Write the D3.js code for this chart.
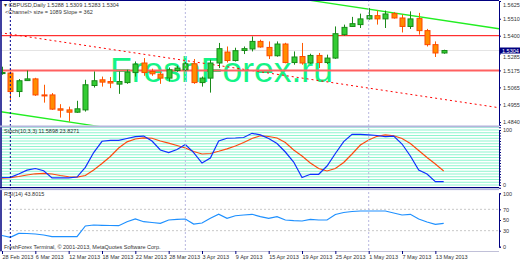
<!DOCTYPE html>
<html lang="en">
<head>
    <meta charset="UTF-8">
    <title>GBPUSD Daily</title>
    <script src="https://d3js.org/d3.v7.min.js"></script>
    <style>
        body { margin: 0; background: #fff; }
        text { font-family: "Liberation Sans", Arial, sans-serif; }
    </style>
</head>
<body>
    <div id="chart"></div>

    <script>
        // daily bars, 28 Feb 2013 .. 14 May 2013
        var open  = [1.5156,1.5158,1.5038,1.5109,1.5120,1.5016,1.5016,1.4926,1.4919,1.4904,1.4919,1.5077,1.5114,1.5103,1.5086,1.5096,1.5161,1.5223,1.5168,1.5151,1.5125,1.5174,1.5179,1.5218,1.5096,1.5125,1.5223,1.5294,1.5239,1.5304,1.5314,1.5363,1.5324,1.5270,1.5346,1.5226,1.5265,1.5223,1.5272,1.5226,1.5255,1.5407,1.5460,1.5472,1.5509,1.5530,1.5509,1.5543,1.5515,1.5460,1.5511,1.5433,1.5342,1.5288];
        var high  = [1.5199,1.5168,1.5119,1.5174,1.5127,1.5082,1.5028,1.4956,1.4940,1.4978,1.5114,1.5168,1.5135,1.5132,1.5168,1.5179,1.5233,1.5255,1.5186,1.5166,1.5194,1.5205,1.5233,1.5249,1.5135,1.5244,1.5353,1.5330,1.5322,1.5330,1.5395,1.5374,1.5363,1.5363,1.5354,1.5298,1.5353,1.5283,1.5288,1.5277,1.5460,1.5472,1.5522,1.5543,1.5580,1.5563,1.5563,1.5553,1.5537,1.5558,1.5548,1.5444,1.5363,1.5309];
        var low   = [1.5147,1.4984,1.5002,1.5108,1.5010,1.4966,1.4919,1.4869,1.4843,1.4900,1.4908,1.5064,1.5070,1.5060,1.5023,1.5088,1.5135,1.5140,1.5140,1.5088,1.5103,1.5166,1.5172,1.5088,1.5070,1.5031,1.5190,1.5226,1.5233,1.5281,1.5298,1.5322,1.5249,1.5264,1.5221,1.5212,1.5212,1.5218,1.5190,1.5216,1.5250,1.5400,1.5457,1.5450,1.5504,1.5472,1.5450,1.5511,1.5421,1.5444,1.5407,1.5330,1.5262,1.5283];
        var close = [1.5161,1.5038,1.5108,1.5120,1.5016,1.5010,1.4924,1.4917,1.4904,1.4926,1.5082,1.5108,1.5099,1.5093,1.5103,1.5164,1.5216,1.5161,1.5153,1.5125,1.5179,1.5190,1.5218,1.5096,1.5125,1.5223,1.5316,1.5239,1.5303,1.5316,1.5363,1.5327,1.5270,1.5346,1.5226,1.5262,1.5223,1.5272,1.5226,1.5255,1.5413,1.5454,1.5478,1.5509,1.5530,1.5509,1.5541,1.5515,1.5460,1.5509,1.5433,1.5342,1.5288,1.5304];

        var stochK = [13.6,14,20,27,30,26,13,13,13,14.5,32,59,79.5,81,81,84.5,88,89,80,63.6,59,64.5,73.6,59,40,49,80,85,85.5,86.4,94,91,84.5,75.5,60,41.8,13.6,19.5,19.5,34.5,57.3,79,92,92,91,90,88,89,74.5,52.7,27.3,20,6,6];
        var stochD = [12.4,13.5,15.5,18.2,20.4,21,20,17.3,15,14.2,17.3,27.3,39,51.8,67.3,78.5,83.6,85.8,85,80,76,71.8,67.3,61,56.4,57.3,61.3,65.8,71,77.3,84.5,89.5,88.2,85.5,77.3,63.6,52.7,40,30,25.5,30,41,56.4,72.7,81.8,88.5,91,89.5,84.5,75.5,62.7,50,38.2,25.5];
        var rsi = [21,17.6,25,24.7,23.8,21.9,19,18.7,18.7,18.7,38.8,40.6,40,39.7,39.3,46.8,51.9,46.8,45.3,43.8,50,51,51.9,42.5,44.4,53.2,60.7,53.2,58,59.4,60.7,56.2,53.2,56.2,50,48.7,48.1,51.3,50,50,60.3,64,65.9,66.9,66.9,66.9,66.9,63.1,59.4,60.7,51.9,46.3,41.9,43.8];

        var priceTicks = [1.5625, 1.5510, 1.5400, 1.5285, 1.5175, 1.5065, 1.4955, 1.4840];
        var hLevels = [1.5400, 1.5175];
        var channelMid = [[0, 1.5418], [53, 1.4987]];
        var channelHalf = 0.0512;
        var separators = [22, 44];
        var markerBar = 1;
        var dateTickBars = [0, 4, 8, 12, 16, 20, 24, 28, 32, 36, 40, 44, 48, 52];
        var dateTickLabels = ["28 Feb 2013", "6 Mar 2013", "12 Mar 2013", "18 Mar 2013", "22 Mar 2013", "28 Mar 2013", "3 Apr 2013", "9 Apr 2013", "15 Apr 2013", "19 Apr 2013", "25 Apr 2013", "1 May 2013", "7 May 2013", "13 May 2013"];
        var stochLevels = d3.range(-5, 106, 5);
        var stochTicks = [0, 100];
        var rsiTicks = [0, 30, 50, 70, 100];

        var width = 520, height = 260;
        var right = 499;

        var x = d3.scaleLinear().domain([0, 53]).range([2, 443.7]);
        var y = d3.scaleLinear().domain([1.4821, 1.5625]).range([125, 1]);
        var yS = d3.scaleLinear().domain([0, 100]).range([185, 130]);
        var yR = d3.scaleLinear().domain([0, 100]).range([246.7, 193.3]);

        var svg = d3.select('#chart').append('svg')
            .attr('width', width)
            .attr('height', height)
            .style('background', '#fff');

        svg.append('clipPath').attr('id', 'main')
            .append('rect').attr('x', 1.5).attr('y', 1).attr('width', right - 1.5).attr('height', 124.5);
        svg.append('clipPath').attr('id', 'sub')
            .append('rect').attr('x', 1.5).attr('y', 127).attr('width', right - 1.5).attr('height', 124);

        // watermark
        svg.append('text')
            .attr('x', 110).attr('y', 82)
            .style('font-size', '35.5px')
            .attr('fill', '#14f486')
            .text('FreshForex.ru');

        var main = svg.append('g').attr('clip-path', 'url(#main)');

        // bid line
        main.append('line')
            .attr('x1', 0).attr('x2', right)
            .attr('y1', y(close[close.length - 1])).attr('y2', y(close[close.length - 1]))
            .attr('stroke', '#e4e4e4');

        // regression channel
        var xr = x.invert(right);
        var slope = (channelMid[1][1] - channelMid[0][1]) / (channelMid[1][0] - channelMid[0][0]);
        var midAt = k => channelMid[0][1] + slope * (k - channelMid[0][0]);
        var xl = x.invert(0);
        main.append('line')
            .attr('x1', 0).attr('y1', y(midAt(xl)))
            .attr('x2', right).attr('y2', y(midAt(xr)))
            .attr('stroke', '#ff0000').attr('stroke-dasharray', '2,3');
        [channelHalf, -channelHalf].forEach(function (off) {
            main.append('line')
                .attr('x1', 0).attr('y1', y(midAt(xl) + off))
                .attr('x2', right).attr('y2', y(midAt(xr) + off))
                .attr('stroke', '#22ee22').attr('stroke-width', 1.3);
        });

        // horizontal levels
        main.append('line')
            .attr('x1', 0).attr('x2', right)
            .attr('y1', y(hLevels[0])).attr('y2', y(hLevels[0]))
            .attr('stroke', '#ff0000');
        main.append('line')
            .attr('x1', 0).attr('x2', right)
            .attr('y1', y(hLevels[1])).attr('y2', y(hLevels[1]))
            .attr('stroke', '#ff6060').attr('stroke-width', 2);

        // candles
        var bars = d3.range(open.length);
        main.selectAll('line.wick')
            .data(bars)
            .enter().append('line')
                .attr('class', 'wick')
                .attr('x1', k => Math.round(x(k)) + 0.5).attr('x2', k => Math.round(x(k)) + 0.5)
                .attr('y1', k => y(high[k])).attr('y2', k => y(low[k]))
                .attr('stroke', k => close[k] >= open[k] ? '#1c8a1c' : '#ff5a00');
        main.selectAll('rect.body')
            .data(bars)
            .enter().append('rect')
                .attr('class', 'body')
                .attr('x', k => Math.round(x(k)) - 2)
                .attr('width', 5)
                .attr('y', k => y(Math.max(open[k], close[k])))
                .attr('height', k => Math.max(1, Math.abs(y(open[k]) - y(close[k]))))
                .attr('fill', k => close[k] >= open[k] ? '#33cc33' : '#ff8c00')
                .attr('stroke', k => close[k] >= open[k] ? '#178a17' : '#ff4800')
                .attr('stroke-width', 1);

        // stochastic panel
        var sub = svg.append('g').attr('clip-path', 'url(#sub)');
        sub.selectAll('line.lvl')
            .data(stochLevels)
            .enter().append('line')
                .attr('x1', 0).attr('x2', right)
                .attr('y1', d => yS(d)).attr('y2', d => yS(d))
                .attr('stroke', '#8ff5cf');
        sub.append('path')
            .datum(stochD)
            .attr('fill', 'none').attr('stroke', '#ff4a10').attr('stroke-width', 1.2)
            .attr('d', d3.line().x((d, i) => x(i)).y(d => yS(d)));
        sub.append('path')
            .datum(stochK)
            .attr('fill', 'none').attr('stroke', '#1030ff').attr('stroke-width', 1.2)
            .attr('d', d3.line().x((d, i) => x(i)).y(d => yS(d)));

        // rsi panel
        [30, 70].forEach(function (v) {
            sub.append('line')
                .attr('x1', 0).attr('x2', right)
                .attr('y1', yR(v)).attr('y2', yR(v))
                .attr('stroke', '#c8c8c8').attr('stroke-dasharray', '2,2');
        });
        sub.append('path')
            .datum(rsi)
            .attr('fill', 'none').attr('stroke', '#1e90ff').attr('stroke-width', 1.2)
            .attr('d', d3.line().x((d, i) => x(i)).y(d => yR(d)));

        // period separators
        separators.forEach(function (k) {
            svg.append('line')
                .attr('x1', x(k)).attr('x2', x(k)).attr('y1', 0).attr('y2', 251)
                .attr('stroke', '#b8b8e0').attr('stroke-dasharray', '2,2');
        });
        svg.append('line')
            .attr('x1', x(markerBar)).attr('x2', x(markerBar)).attr('y1', 0).attr('y2', 252)
            .attr('stroke', '#000090').attr('stroke-dasharray', '2,2');

        // frames
        svg.append('line').attr('x1', 0).attr('x2', right).attr('y1', 0.5).attr('y2', 0.5).attr('stroke', '#000080');
        svg.append('line').attr('x1', 1).attr('x2', 1).attr('y1', 0).attr('y2', 252).attr('stroke', '#000080').attr('stroke-width', 1.5);
        svg.append('rect').attr('x', 0).attr('y', 125.5).attr('width', right).attr('height', 1.8).attr('fill', '#b4b4dc');
        svg.append('line').attr('x1', 0).attr('x2', right).attr('y1', 187.5).attr('y2', 187.5).attr('stroke', '#000080');
        svg.append('rect').attr('x', 0).attr('y', 188.3).attr('width', right).attr('height', 1.8).attr('fill', '#b4b4dc');
        svg.append('line').attr('x1', 0).attr('x2', right).attr('y1', 251.5).attr('y2', 251.5).attr('stroke', '#c0c0d8');

        // axes
        function styleAxis(g) {
            g.select('.domain').attr('stroke', '#000080');
            g.selectAll('.tick line').attr('stroke', '#000080');
            g.selectAll('.tick text').attr('fill', '#333').style('font-size', '5.5px');
        }
        var ya = svg.append('g')
            .attr('transform', 'translate(' + right + ',0)')
            .call(d3.axisRight(y).tickValues(priceTicks).tickSize(2).tickPadding(2).tickFormat(d3.format('.4f')))
            .call(styleAxis);
        ya.selectAll('.tick text').filter(d => d === priceTicks[0]).attr('dy', '1.05em');
        ya.selectAll('.tick text').filter(d => d === priceTicks[3]).attr('dy', '0.95em');
        svg.append('g')
            .attr('transform', 'translate(' + right + ',0)')
            .call(d3.axisRight(yS).tickValues(stochLevels).tickSize(2).tickPadding(2).tickFormat(d => stochTicks.includes(d) ? d : ''))
            .call(styleAxis);
        svg.append('g')
            .attr('transform', 'translate(' + right + ',0)')
            .call(d3.axisRight(yR).tickValues(rsiTicks).tickSize(2).tickPadding(2))
            .call(styleAxis);
        var xa = svg.append('g')
            .attr('transform', 'translate(0,251)')
            .call(d3.axisBottom(x).tickValues(dateTickBars).tickSize(3).tickPadding(1).tickFormat((d, i) => dateTickLabels[i]))
            .call(styleAxis);
        xa.select('.domain').remove();
        xa.selectAll('.tick text').attr('text-anchor', 'start');

        // current price box
        var last = close[close.length - 1];
        svg.append('rect')
            .attr('x', right + 1).attr('y', y(last) - 3).attr('width', 20).attr('height', 6)
            .attr('fill', '#000080');
        svg.append('text')
            .attr('x', right + 3).attr('y', y(last) + 2)
            .attr('fill', '#fff').style('font-size', '5.5px')
            .text(d3.format('.4f')(last));

        // captions
        var fmt = d3.format('.4f');
        var n = close.length - 1;
        svg.append('text').attr('x', 4).attr('y', 7).attr('fill', '#333').style('font-size', '5.5px')
            .text('\u25BE GBPUSD,Daily  ' + [open[n], high[n], low[n], close[n]].map(fmt).join(' '));
        svg.append('text').attr('x', 5).attr('y', 14).attr('fill', '#333').style('font-size', '5.5px')
            .text('<Channel> size = 1089 Slope = 362');
        svg.append('text').attr('x', 4).attr('y', 133).attr('fill', '#333').style('font-size', '5.5px')
            .text('Stoch(10,3,3) 11.5898 23.8271');
        svg.append('text').attr('x', 4).attr('y', 196).attr('fill', '#333').style('font-size', '5.5px')
            .text('RSI(14) 43.8015');
        svg.append('text').attr('x', 4).attr('y', 249).attr('fill', '#333').style('font-size', '5.5px')
            .text('FreshForex Terminal, \u00A9 2001-2013, MetaQuotes Software Corp.');
    </script>
</body>
</html>
